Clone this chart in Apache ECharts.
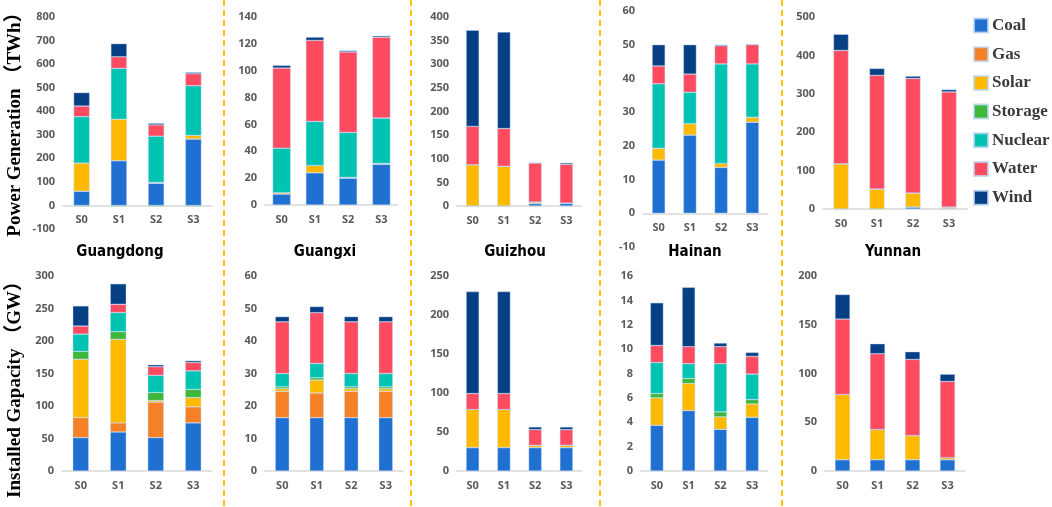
<!DOCTYPE html>
<html>
<head>
<meta charset="utf-8">
<script src="https://cdn.jsdelivr.net/npm/echarts@6/dist/echarts.min.js"></script>
<style>
  html, body { margin: 0; padding: 0; background: #fff; }
  #chart { width: 1052px; height: 507px; }
</style>
</head>
<body>
<div id="chart"></div>
<script>
// categories
const scenarios = ['S0', 'S1', 'S2', 'S3'];
const sources = ['Coal', 'Gas', 'Solar', 'Storage', 'Nuclear', 'Water', 'Wind'];
const provinces = ['Guangdong', 'Guangxi', 'Guizhou', 'Hainan', 'Yunnan'];
const colors = ['#1F70D0', '#F58025', '#FFBA00', '#3DB83A', '#00C3B2', '#FF4B5F', '#073F85'];

// power generation (TWh), rows in order of sources, columns S0..S3
const genGuangdong = [
  [60, 190, 94, 282],
  [0, 0, 0, 0],
  [120, 176, 4, 15],
  [-4, -4, -4, -4],
  [197, 216, 196, 211],
  [45, 49, 48, 51],
  [57, 56, 7, 6]
];
const genGuangxi = [
  [8.2, 24, 20, 30.3],
  [0, 0, 0, 0],
  [1, 5.4, 0.6, 0.7],
  [0, 0, 0, 0],
  [33.1, 32.8, 33.4, 33.7],
  [59.7, 60.4, 60, 60.3],
  [2, 2.4, 1, 1]
];
const genGuizhou = [
  [0, 0, 5, 5.6],
  [0, 0, 0, 0],
  [87.4, 84, 3.5, 0.5],
  [0, 0, 0, 0],
  [0, 0, 0, 0],
  [81.1, 80, 82.5, 82],
  [203.5, 204, 1, 3]
];
const genHainan = [
  [15.8, 23.2, 13.6, 27],
  [0, 0, 0, 0],
  [3.5, 3.4, 1.2, 1.5],
  [0, 0, 0, 0],
  [19.1, 9.3, 29.5, 15.8],
  [5.3, 5.4, 5.4, 5.7],
  [6.3, 8.7, 0.3, 0.2]
];
const genYunnan = [
  [0, 0, 5, 1],
  [0, 0, 0, 0],
  [117.6, 52, 36.5, 4],
  [0, 0, 0, 0],
  [0, 0, 0, 0],
  [295.4, 296, 298.5, 300],
  [42, 18, 6, 6]
];

// installed capacity (GW)
const capGuangdong = [
  [51.4, 60, 51.4, 74],
  [30.8, 14, 54.6, 24.7],
  [89.8, 128.6, 2.4, 14.3],
  [12, 11.8, 12.4, 12.5],
  [26.6, 29.3, 26.2, 28.5],
  [12.4, 12.8, 13.4, 13],
  [31, 31.5, 3.1, 2.7]
];
const capGuangxi = [
  [16.4, 16.4, 16.4, 16.4],
  [8.1, 7.6, 8.1, 8.1],
  [0.8, 4, 0.8, 0.8],
  [0.6, 0.7, 0.6, 0.6],
  [4.1, 4.4, 4.1, 4.1],
  [15.9, 15.6, 15.9, 15.9],
  [1.6, 1.9, 1.6, 1.6]
];
const capGuizhou = [
  [30, 30, 30, 30],
  [0, 0, 0, 0],
  [48.8, 48.8, 3, 3],
  [0, 0, 0, 0],
  [0, 0, 0, 0],
  [20.5, 20.5, 20, 20],
  [130.7, 130.7, 3.5, 3.5]
];
const capHainan = [
  [3.75, 4.96, 3.42, 4.4],
  [0, 0, 0, 0],
  [2.25, 2.22, 1.02, 1.1],
  [0.36, 0.42, 0.41, 0.36],
  [2.54, 1.2, 3.95, 2.09],
  [1.4, 1.4, 1.4, 1.45],
  [3.5, 4.87, 0.3, 0.33]
];
const capYunnan = [
  [11.6, 11.6, 11.6, 11.6],
  [0, 0, 0, 0],
  [66.8, 30.9, 24.7, 2.1],
  [0, 0, 0, 0],
  [0, 0, 0, 0],
  [77.4, 77.7, 78.1, 78.1],
  [25.2, 10.3, 7.9, 7.5]
];

// y axis ranges: [min, max, interval]
const genAxis = [[-100, 800, 100], [0, 140, 20], [0, 400, 50], [-10, 60, 10], [0, 500, 100]];
const capAxis = [[0, 300, 50], [0, 60, 10], [0, 250, 50], [0, 16, 2], [0, 200, 50]];

const genData = [genGuangdong, genGuangxi, genGuizhou, genHainan, genYunnan];
const capData = [capGuangdong, capGuangxi, capGuizhou, capHainan, capYunnan];

// panel boxes [left, top, width, height]
const panels = [
  [63, 17, 149, 212], [265, 17, 133, 188], [457, 17, 125, 189], [643, 11, 125, 236], [823, 17, 144, 192],
  [62, 276, 150, 195], [265, 276, 138, 195], [457, 276, 125, 195], [641, 276, 127, 195], [825, 276, 140, 195]
];
const barWidths = [16, 18, 13, 13, 15, 16, 14, 13, 13, 15];

const chart = echarts.init(document.getElementById('chart'));

const grids = [], xAxes = [], yAxes = [], series = [];
const allData = genData.concat(capData);
const allAxis = genAxis.concat(capAxis);

allData.forEach((rows, g) => {
  const p = panels[g];
  const ax = allAxis[g];
  // labels sit just under the zero line, as in the original
  const zeroOffset = p[3] * (0 - ax[0]) / (ax[1] - ax[0]);
  grids.push({ left: p[0], top: p[1], width: p[2], height: p[3] });
  xAxes.push({
    type: 'category', gridIndex: g, data: scenarios,
    axisLine: { onZero: true, lineStyle: { color: '#d9d9d9', width: 1.5 } },
    axisTick: { show: false },
    axisLabel: { color: '#595959', fontSize: 11, fontWeight: 'bold', fontFamily: 'Open Sans', margin: 9 - zeroOffset }
  });
  yAxes.push({
    type: 'value', gridIndex: g, min: ax[0], max: ax[1], interval: ax[2],
    splitLine: { show: false }, axisLine: { show: false }, axisTick: { show: false },
    axisLabel: { color: '#595959', fontSize: 11, fontWeight: 'bold', fontFamily: 'Open Sans', margin: 8 }
  });
  rows.forEach((vals, s) => {
    series.push({
      name: sources[s], type: 'bar', stack: 'p' + g,
      xAxisIndex: g, yAxisIndex: g,
      barWidth: barWidths[g],
      itemStyle: { color: colors[s], borderColor: 'rgba(190,215,245,0.8)', borderWidth: 0.5 },
      emphasis: { disabled: true },
      data: vals
    });
  });
});

// dashed separators, axis titles, province names
const graphics = [];
[224, 411, 600, 782].forEach(x => {
  graphics.push({
    type: 'line', shape: { x1: x, y1: 0, x2: x, y2: 507 },
    style: { stroke: '#FFC000', lineWidth: 2, lineDash: [6, 4] }, silent: true
  });
});
const titleX = [120, 325, 515, 695, 893];
provinces.forEach((name, i) => {
  graphics.push({
    type: 'text', x: titleX[i], y: 252,
    style: {
      text: name, fill: '#000', font: 'bold 15px "DejaVu Sans Condensed", "Liberation Sans Narrow", sans-serif',
      textAlign: 'center', textVerticalAlign: 'middle'
    }
  });
});
graphics.push({
  type: 'text', x: 15, y: 120, rotation: Math.PI / 2,
  style: {
    text: 'Power Generation （TWh）', fill: '#000',
    font: 'bold 19px "Liberation Serif", "Noto Sans CJK SC", serif',
    textAlign: 'center', textVerticalAlign: 'middle'
  }
});
graphics.push({
  type: 'text', x: 15, y: 385, rotation: Math.PI / 2,
  style: {
    text: 'Installed Gapacity （GW）', fill: '#000',
    font: 'bold 19px "Liberation Serif", "Noto Sans CJK SC", serif',
    textAlign: 'center', textVerticalAlign: 'middle'
  }
});

chart.setOption({
  animation: false,
  grid: grids,
  xAxis: xAxes,
  yAxis: yAxes,
  legend: {
    data: sources, orient: 'vertical', left: 968, top: 11,
    icon: 'rect', itemWidth: 14, itemHeight: 14, itemGap: 9.7,
    selectedMode: false,
    textStyle: { fontFamily: 'Liberation Serif', fontWeight: 'bold', fontSize: 17, color: '#3a3a3a', lineHeight: 19, padding: [0, 0, 0, -1] }
  },
  graphic: graphics,
  series: series
});
</script>
</body>
</html>
